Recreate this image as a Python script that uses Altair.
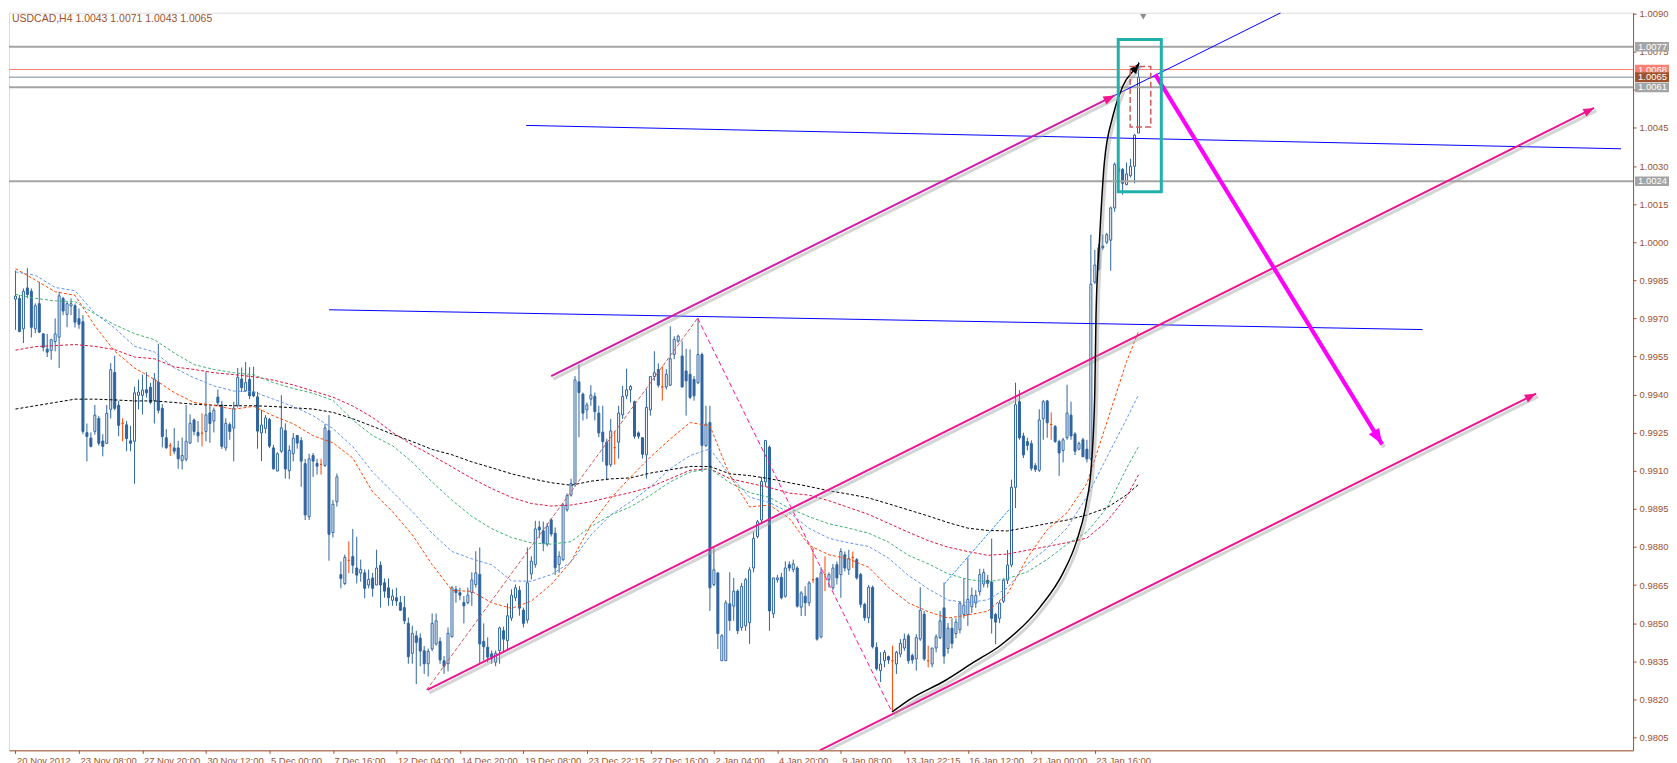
import altair as alt
import pandas as pd

# ---------------- data ----------------
SYMBOL = "USDCAD,H4"

OPEN = [
0.99776,0.99779,0.99659,0.99820,0.99807,0.99659,0.99758,0.99639,0.99579,0.99574,
0.99609,0.99626,0.99779,0.99716,0.99749,0.99750,0.99699,0.99687,0.99250,0.99229,
0.99255,0.99306,0.99217,0.99208,0.99342,0.99487,0.99358,0.99287,0.99281,0.99218,
0.99216,0.99397,0.99397,0.99419,0.99429,0.99377,0.99449,0.99346,0.99230,0.99199,
0.99190,0.99190,0.99140,0.99145,0.99209,0.99300,0.99251,0.99248,0.99255,0.99328,
0.99296,0.99390,0.99359,0.99190,0.99282,0.99268,0.99358,0.99461,0.99415,0.99460,
0.99411,0.99391,0.99249,0.99267,0.99302,0.99190,0.99099,0.99177,0.99258,0.99100,
0.99167,0.99239,0.99219,0.99128,0.98919,0.99160,0.99129,0.99125,0.99121,0.99258,
0.98857,0.98978,0.98691,0.98656,0.98747,0.98762,0.98717,0.98697,0.98698,0.98650,
0.98678,0.98650,0.98728,0.98659,0.98639,0.98590,0.98600,0.98581,0.98561,0.98499,
0.98381,0.98450,0.98441,0.98391,0.98340,0.98398,0.98418,0.98428,0.98352,0.98340,
0.98447,0.98633,0.98620,0.98581,0.98581,0.98620,0.98652,0.98692,0.98428,0.98405,
0.98379,0.98346,0.98392,0.98470,0.98431,0.98520,0.98600,0.98629,0.98551,0.98512,
0.98694,0.98731,0.98878,0.98864,0.98811,0.98907,0.98854,0.98731,0.98750,0.98946,
0.99004,0.99050,0.99450,0.99402,0.99340,0.99382,0.99393,0.99327,0.99252,0.99213,
0.99124,0.99191,0.99213,0.99320,0.99395,0.99419,0.99372,0.99249,0.99230,0.99163,
0.99340,0.99471,0.99499,0.99430,0.99430,0.99437,0.99558,0.99610,0.99552,0.99493,
0.99480,0.99460,0.99447,0.99558,0.99199,0.99290,0.98652,0.98698,0.98352,0.98352,
0.98576,0.98567,0.98626,0.98483,0.98489,0.98502,0.98717,0.98841,0.98906,0.99056,
0.99193,0.98537,0.98671,0.98680,0.98606,0.98730,0.98711,0.98717,0.98563,0.98606,
0.98580,0.98671,0.98678,0.98446,0.98691,0.98671,0.98639,0.98730,0.98691,0.98769,
0.98711,0.98759,0.98750,0.98691,0.98574,0.98521,0.98641,0.98404,0.98313,0.98352,
0.98368,0.98352,0.98339,0.98378,0.98402,0.98450,0.98372,0.98359,0.98437,0.98535,
0.98352,0.98339,0.98402,0.98443,0.98560,0.98400,0.98480,0.98459,0.98474,0.98534,
0.98534,0.98564,0.98579,0.98624,0.98654,0.98669,0.98661,0.98534,0.98519,0.98586,
0.98669,0.98729,0.99035,0.99372,0.99237,0.99215,0.99207,0.99120,0.99102,0.99305,
0.99375,0.99282,0.99274,0.99215,0.99180,0.99230,0.99319,0.99245,0.99185,0.99222,
0.99185,0.99147,0.99843,0.99895,0.99985,1.00000,1.00008,1.00135,1.00292,1.00287,
1.00227,1.00262,1.00299,1.00430]

HIGH = [
0.99889,0.99792,0.99818,0.99898,0.99818,0.99759,0.99844,0.99642,0.99639,0.99620,
0.99700,0.99805,0.99785,0.99765,0.99779,0.99758,0.99739,0.99713,0.99286,0.99251,
0.99359,0.99316,0.99244,0.99359,0.99524,0.99553,0.99375,0.99307,0.99296,0.99277,
0.99431,0.99459,0.99479,0.99488,0.99446,0.99485,0.99600,0.99362,0.99264,0.99210,
0.99268,0.99218,0.99231,0.99359,0.99322,0.99306,0.99296,0.99326,0.99490,0.99355,
0.99349,0.99420,0.99375,0.99307,0.99290,0.99372,0.99505,0.99507,0.99528,0.99508,
0.99510,0.99411,0.99340,0.99319,0.99308,0.99202,0.99173,0.99398,0.99287,0.99200,
0.99249,0.99241,0.99232,0.99147,0.99167,0.99170,0.99147,0.99147,0.99284,0.99319,
0.98985,0.99089,0.98743,0.98770,0.98822,0.98871,0.98840,0.98750,0.98711,0.98711,
0.98698,0.98789,0.98743,0.98676,0.98676,0.98633,0.98639,0.98607,0.98607,0.98522,
0.98490,0.98470,0.98460,0.98410,0.98400,0.98538,0.98538,0.98444,0.98370,0.98483,
0.98646,0.98646,0.98640,0.98607,0.98640,0.98700,0.98783,0.98798,0.98499,0.98444,
0.98392,0.98392,0.98486,0.98486,0.98577,0.98633,0.98652,0.98646,0.98561,0.98798,
0.98763,0.98903,0.98903,0.98900,0.98894,0.98913,0.98877,0.98783,0.98972,0.99011,
0.99069,0.99473,0.99519,0.99408,0.99369,0.99437,0.99408,0.99356,0.99356,0.99226,
0.99304,0.99257,0.99356,0.99434,0.99502,0.99437,0.99376,0.99255,0.99232,0.99421,
0.99473,0.99571,0.99523,0.99512,0.99500,0.99669,0.99630,0.99636,0.99610,0.99580,
0.99578,0.99473,0.99701,0.99565,0.99356,0.99356,0.98795,0.98698,0.98457,0.98590,
0.98700,0.98678,0.98633,0.98658,0.98678,0.98720,0.98860,0.98906,0.99076,0.99219,
0.99199,0.98678,0.98690,0.98698,0.98743,0.98743,0.98750,0.98724,0.98626,0.98645,
0.98666,0.98798,0.98678,0.98720,0.98763,0.98700,0.98733,0.98743,0.98795,0.98782,
0.98789,0.98782,0.98756,0.98698,0.98580,0.98650,0.98648,0.98424,0.98385,0.98394,
0.98372,0.98411,0.98391,0.98437,0.98459,0.98459,0.98380,0.98456,0.98641,0.98548,
0.98411,0.98402,0.98456,0.98548,0.98660,0.98500,0.98519,0.98519,0.98586,0.98676,
0.98759,0.98640,0.98630,0.98714,0.98714,0.98690,0.98833,0.98540,0.98590,0.98676,
0.98788,0.99065,0.99447,0.99417,0.99250,0.99230,0.99220,0.99130,0.99342,0.99379,
0.99379,0.99330,0.99280,0.99222,0.99230,0.99439,0.99372,0.99252,0.99215,0.99230,
0.99222,1.00030,0.99970,0.99993,1.00030,1.00037,1.00140,1.00314,1.00314,1.00292,
1.00314,1.00329,1.00427,1.00710]

LOW = [
0.99655,0.99646,0.99603,0.99779,0.99625,0.99642,0.99642,0.99570,0.99548,0.99537,
0.99570,0.99505,0.99713,0.99665,0.99713,0.99664,0.99659,0.99244,0.99137,0.99192,
0.99242,0.99199,0.99157,0.99205,0.99306,0.99338,0.99236,0.99216,0.99177,0.99177,
0.99049,0.99342,0.99322,0.99388,0.99362,0.99286,0.99326,0.99192,0.99186,0.99158,
0.99166,0.99108,0.99105,0.99137,0.99205,0.99240,0.99212,0.99196,0.99216,0.99210,
0.99251,0.99355,0.99186,0.99179,0.99222,0.99137,0.99349,0.99410,0.99411,0.99382,
0.99390,0.99187,0.99138,0.99248,0.99189,0.99104,0.99098,0.99170,0.99069,0.99067,
0.99137,0.99187,0.99037,0.98906,0.98906,0.99076,0.99085,0.99085,0.99115,0.98746,
0.98837,0.98959,0.98637,0.98650,0.98697,0.98695,0.98656,0.98663,0.98598,0.98637,
0.98604,0.98650,0.98561,0.98600,0.98568,0.98568,0.98568,0.98548,0.98496,0.98340,
0.98340,0.98260,0.98330,0.98300,0.98290,0.98390,0.98411,0.98340,0.98300,0.98310,
0.98443,0.98580,0.98590,0.98499,0.98574,0.98568,0.98640,0.98340,0.98353,0.98346,
0.98340,0.98330,0.98340,0.98385,0.98392,0.98509,0.98587,0.98529,0.98483,0.98499,
0.98672,0.98718,0.98835,0.98783,0.98802,0.98841,0.98689,0.98698,0.98744,0.98939,
0.98998,0.99037,0.99232,0.99298,0.99304,0.99356,0.99298,0.99232,0.99135,0.99063,
0.99115,0.99124,0.99148,0.99304,0.99382,0.99369,0.99226,0.99226,0.99148,0.99069,
0.99317,0.99454,0.99428,0.99376,0.99420,0.99434,0.99539,0.99604,0.99428,0.99317,
0.99382,0.99376,0.99441,0.99096,0.99193,0.98548,0.98645,0.98398,0.98352,0.98352,
0.98470,0.98509,0.98457,0.98470,0.98470,0.98418,0.98700,0.98834,0.98890,0.99037,
0.98470,0.98520,0.98660,0.98593,0.98600,0.98704,0.98700,0.98561,0.98528,0.98528,
0.98567,0.98658,0.98431,0.98440,0.98626,0.98640,0.98630,0.98652,0.98600,0.98704,
0.98690,0.98717,0.98671,0.98561,0.98509,0.98500,0.98400,0.98313,0.98268,0.98326,
0.98340,0.98155,0.98300,0.98365,0.98391,0.98340,0.98340,0.98313,0.98430,0.98352,
0.98326,0.98326,0.98385,0.98437,0.98340,0.98380,0.98400,0.98440,0.98459,0.98519,
0.98489,0.98540,0.98560,0.98609,0.98640,0.98640,0.98459,0.98417,0.98500,0.98579,
0.98654,0.98720,0.98953,0.99222,0.99150,0.99180,0.99100,0.99095,0.99095,0.99222,
0.99230,0.99222,0.99210,0.99080,0.99133,0.99222,0.99222,0.99162,0.99180,0.99155,
0.99133,0.99140,0.99835,0.99888,0.99970,0.99993,0.99888,1.00120,1.00262,1.00187,
1.00224,1.00255,1.00232,1.00430]

CLOSE = [
0.99788,0.99648,0.99807,0.99794,0.99665,0.99750,0.99646,0.99586,0.99567,0.99616,
0.99639,0.99789,0.99729,0.99758,0.99758,0.99685,0.99677,0.99255,0.99235,0.99196,
0.99319,0.99208,0.99196,0.99326,0.99498,0.99346,0.99279,0.99287,0.99227,0.99208,
0.99407,0.99410,0.99418,0.99407,0.99369,0.99461,0.99338,0.99235,0.99191,0.99199,
0.99177,0.99147,0.99160,0.99216,0.99287,0.99255,0.99238,0.99248,0.99320,0.99286,
0.99338,0.99368,0.99196,0.99287,0.99255,0.99346,0.99468,0.99427,0.99447,0.99395,
0.99395,0.99256,0.99280,0.99308,0.99197,0.99108,0.99167,0.99269,0.99107,0.99180,
0.99228,0.99209,0.99138,0.98926,0.99147,0.99138,0.99118,0.99125,0.99269,0.98850,
0.98968,0.99076,0.98676,0.98759,0.98747,0.98728,0.98689,0.98711,0.98637,0.98672,
0.98637,0.98717,0.98650,0.98626,0.98600,0.98607,0.98587,0.98551,0.98509,0.98368,
0.98460,0.98424,0.98390,0.98340,0.98389,0.98499,0.98509,0.98355,0.98330,0.98460,
0.98639,0.98620,0.98610,0.98568,0.98610,0.98670,0.98698,0.98418,0.98407,0.98366,
0.98359,0.98381,0.98481,0.98437,0.98529,0.98610,0.98639,0.98559,0.98499,0.98659,
0.98744,0.98871,0.98867,0.98815,0.98881,0.98851,0.98718,0.98763,0.98965,0.99002,
0.99050,0.99458,0.99408,0.99327,0.99359,0.99398,0.99333,0.99249,0.99215,0.99122,
0.99257,0.99191,0.99327,0.99393,0.99419,0.99432,0.99236,0.99236,0.99165,0.99350,
0.99471,0.99486,0.99437,0.99430,0.99480,0.99541,0.99617,0.99630,0.99430,0.99454,
0.99389,0.99395,0.99558,0.99200,0.99284,0.98639,0.98710,0.98459,0.98450,0.98580,
0.98510,0.98626,0.98470,0.98645,0.98671,0.98710,0.98834,0.98899,0.99058,0.99219,
0.98548,0.98678,0.98678,0.98600,0.98717,0.98717,0.98733,0.98567,0.98619,0.98580,
0.98658,0.98671,0.98437,0.98698,0.98691,0.98691,0.98717,0.98678,0.98782,0.98717,
0.98754,0.98759,0.98678,0.98574,0.98521,0.98641,0.98407,0.98320,0.98339,0.98385,
0.98355,0.98352,0.98385,0.98420,0.98437,0.98352,0.98355,0.98443,0.98550,0.98359,
0.98352,0.98402,0.98446,0.98509,0.98370,0.98480,0.98420,0.98504,0.98579,0.98571,
0.98594,0.98609,0.98609,0.98691,0.98699,0.98657,0.98519,0.98504,0.98579,0.98669,
0.98729,0.99035,0.99360,0.99230,0.99162,0.99200,0.99110,0.99105,0.99300,0.99372,
0.99289,0.99282,0.99215,0.99170,0.99222,0.99327,0.99237,0.99177,0.99207,0.99155,
0.99147,0.99835,0.99910,0.99978,0.99978,1.00030,1.00135,1.00307,1.00277,1.00232,
1.00269,1.00299,1.00422,1.00650]

X_LABELS = ["20 Nov 2012", "23 Nov 08:00", "27 Nov 20:00", "30 Nov 12:00", "5 Dec 00:00",
            "7 Dec 16:00", "12 Dec 04:00", "14 Dec 20:00", "19 Dec 08:00", "23 Dec 22:15",
            "27 Dec 16:00", "2 Jan 04:00", "4 Jan 20:00", "9 Jan 08:00", "13 Jan 22:15",
            "16 Jan 12:00", "21 Jan 00:00", "23 Jan 16:00"]
X_TICK_BARS = [0, 16, 32, 48, 64, 80, 96, 112, 128, 144, 160, 176, 192, 208, 224, 240, 256, 272]
Y_TICKS = [0.9805, 0.9820, 0.9835, 0.9850, 0.9865, 0.9880, 0.9895, 0.9910, 0.9925, 0.9940,
           0.9955, 0.9970, 0.9985, 1.0000, 1.0015, 1.0030, 1.0045, 1.0060, 1.0075, 1.0090]
Y_TICKS_HIDDEN = [1.0060]   # label fully covered by the price boxes in the original

# moving averages (sampled bars)
MA_IDX = [0, 5, 10, 15, 20, 25, 30, 35, 40, 45, 50, 55, 60, 65, 70, 75, 80, 85, 90, 95,
          100, 105, 110, 115, 120, 125, 130, 135, 140, 145, 150, 155, 160, 165, 170, 175, 180, 185, 190, 195,
          200, 205, 210, 215, 220, 225, 230, 235, 240, 245, 250, 255, 260, 265, 270, 275, 280, 283]
MA_ORANGE = [0.99896,0.99851,0.99805,0.99791,0.99671,0.99571,0.99505,0.99460,0.99408,0.99369,
             0.99357,0.99342,0.99354,0.99316,0.99285,0.99238,0.99210,0.99150,0.99017,0.98939,
             0.98848,0.98730,0.98629,0.98625,0.98580,0.98558,0.98587,0.98652,0.98743,0.98886,
             0.98991,0.99075,0.99154,0.99225,0.99290,0.99277,0.99082,0.98958,0.98965,0.98913,
             0.98806,0.98769,0.98753,0.98720,0.98641,0.98580,0.98545,0.98520,0.98532,0.98547,
             0.98616,0.98758,0.98868,0.98935,0.99050,0.99289,0.99530,0.99648]
MA_BLUE = [0.99883,0.99870,0.99822,0.99809,0.99720,0.99662,0.99590,0.99568,0.99505,0.99466,
           0.99434,0.99414,0.99411,0.99382,0.99353,0.99317,0.99266,0.99195,0.99095,0.99017,
           0.98939,0.98854,0.98782,0.98753,0.98730,0.98666,0.98665,0.98691,0.98741,0.98847,
           0.98926,0.98978,0.99036,0.99108,0.99160,0.99186,0.99082,0.98996,0.98975,0.98936,
           0.98873,0.98834,0.98816,0.98802,0.98756,0.98688,0.98635,0.98591,0.98580,0.98592,
           0.98639,0.98733,0.98796,0.98875,0.98998,0.99152,0.99304,0.99399]
MA_GREEN = [0.99795,0.99779,0.99769,0.99766,0.99718,0.99675,0.99640,0.99616,0.99564,0.99518,
            0.99499,0.99486,0.99478,0.99447,0.99424,0.99405,0.99377,0.99300,0.99238,0.99199,
            0.99134,0.99056,0.98984,0.98920,0.98872,0.98837,0.98816,0.98811,0.98821,0.98880,
            0.98926,0.98958,0.99004,0.99056,0.99095,0.99108,0.99053,0.99014,0.98995,0.98952,
            0.98919,0.98891,0.98874,0.98854,0.98819,0.98767,0.98734,0.98694,0.98672,0.98663,
            0.98675,0.98702,0.98751,0.98811,0.98859,0.98953,0.99110,0.99195]
MA_RED = [0.99575,0.99589,0.99593,0.99597,0.99590,0.99577,0.99548,0.99541,0.99509,0.99499,
          0.99486,0.99479,0.99470,0.99457,0.99438,0.99414,0.99390,0.99355,0.99310,0.99251,
          0.99202,0.99160,0.99115,0.99070,0.99030,0.98995,0.98971,0.98961,0.98965,0.98978,
          0.98997,0.99014,0.99036,0.99069,0.99102,0.99108,0.99069,0.99051,0.99034,0.99012,
          0.99004,0.98982,0.98955,0.98928,0.98893,0.98858,0.98825,0.98799,0.98782,0.98767,
          0.98772,0.98787,0.98802,0.98817,0.98835,0.98900,0.98998,0.99084]
MA_BLACK = [0.99343,0.99356,0.99369,0.99382,0.99382,0.99379,0.99375,0.99375,0.99369,0.99362,
            0.99358,0.99356,0.99356,0.99353,0.99348,0.99343,0.99330,0.99305,0.99275,0.99244,
            0.99215,0.99184,0.99163,0.99135,0.99112,0.99088,0.99069,0.99053,0.99043,0.99059,
            0.99068,0.99072,0.99091,0.99104,0.99117,0.99117,0.99088,0.99081,0.99069,0.99053,
            0.99038,0.99021,0.99008,0.98993,0.98970,0.98946,0.98922,0.98896,0.98874,0.98865,
            0.98863,0.98877,0.98892,0.98906,0.98926,0.98954,0.99005,0.99046]

# horizontal price levels
LEVEL_PRICES = [1.0077, 1.0068, 1.0061, 1.0024]
LEVEL_COLORS = ["#A4A4A4", "#FA8072", "#A4A4A4", "#A4A4A4"]
LEVEL_WIDTHS = [2, 1, 2, 2]

# trend objects (bar index, price)
CH_UPPER = ([135.0, 277.0], [0.99473, 1.00578])
CH_UPPER_EXT = ([277.0, 318.9], [1.00578, 1.00904])
CH_MID = ([103.8, 397.8], [0.98237, 1.00529])
CH_LOW = ([202.7, 383.2], [0.97999, 0.99404])
BLUE_UP = ([128.7, 404.6], [1.00460, 1.00368])
BLUE_LO = ([79.0, 354.6], [0.99734, 0.99656])
BLUE_SMALL = ([234.0, 250.7], [0.98653, 0.98952])
ZIG_UP = ([103.6, 171.9], [0.98237, 0.99701])
ZIG_DOWN = ([171.9, 220.9], [0.99701, 0.98150])
BIG_ARROW = ([287.2, 344.4], [1.00661, 0.99204])
CURVE_I = [220.9, 225.4, 234.4, 241.5, 248.2, 258.2, 264.0, 267.3, 269.8, 271.1,
           272.0, 272.3, 273.2, 274.4, 276.5, 279.0, 282.4, 283.2]
CURVE_P = [0.98150, 0.98200, 0.98275, 0.98346, 0.98412, 0.98563, 0.98698, 0.98818, 0.98968, 0.99117,
           0.99417, 0.99715, 1.00015, 1.00314, 1.00494, 1.00613, 1.00688, 1.00705]
TEAL_BOX = (277.9, 288.75, 1.00798, 1.00199)
RED_BOX = (280.9, 286.1, 1.00692, 1.00454)
SHIFT_BAR = 284.2

# ---------------- styling ----------------
W, H = 1627, 739
XDOM = [-0.375, 406.375]
YDOM = [0.97999, 1.00904]
FONT = "Liberation Sans"
BROWN = "#A0522D"
CANDLE = "#2F64A0"
DOJI = "#FF4500"
PINK = "#F0158F"
PINK_UP = "#D21CA8"

xs = alt.Scale(domain=XDOM, nice=False, zero=False)
ys = alt.Scale(domain=YDOM, nice=False, zero=False)

labels_js = "[" + ",".join("'%s'" % s for s in X_LABELS) + "]"
ticks_js = "[" + ",".join(str(v) for v in X_TICK_BARS) + "]"
hidden_js = "[" + ",".join(str(v) for v in Y_TICKS_HIDDEN) + "]"
x_axis = alt.Axis(values=X_TICK_BARS, labelExpr=f"{labels_js}[indexof({ticks_js}, datum.value)]",
                  title=None, grid=False, tickSize=3, labelPadding=2, labelAlign="left",
                  labelBaseline="top", labelOffset=1, labelFlush=False, labelOverlap=False,
                  domainColor=BROWN, tickColor=BROWN, labelColor=BROWN, labelFont=FONT,
                  labelFontSize=9.5)
y_axis = alt.Axis(orient="right", values=Y_TICKS,
                  labelExpr=f"indexof({hidden_js}, datum.value) >= 0 ? '' : format(datum.value, '.4f')",
                  title=None, grid=False,
                  tickSize=3, labelPadding=3, labelAlign="left", labelBaseline="middle",
                  labelFlush=False, labelOverlap=False, domainColor=BROWN, tickColor=BROWN,
                  labelColor=BROWN, labelFont=FONT, labelFontSize=9.5)


def X(f):
    return alt.X(f, type="quantitative", scale=xs, axis=x_axis)


def Y(f):
    return alt.Y(f, type="quantitative", scale=ys, axis=y_axis)


# ---------------- tables ----------------
kind = ["bull" if c > o else ("bear" if c < o else "doji") for o, c in zip(OPEN, CLOSE)]
candles = pd.DataFrame({
    "i": list(range(len(CLOSE))), "open": OPEN, "high": HIGH, "low": LOW, "close": CLOSE,
    "line": [DOJI if k == "doji" else CANDLE for k in kind],
    "body": ["#FFFFFF" if k == "bull" else (CANDLE if k == "bear" else DOJI) for k in kind],
})

ma_rows = []
for vals, col in [(MA_BLACK, "#000000"), (MA_RED, "#DC143C"), (MA_GREEN, "#3CB371"),
                  (MA_BLUE, "#6495ED"), (MA_ORANGE, "#FF4500")]:
    for i, p in zip(MA_IDX, vals):
        ma_rows.append({"i": i, "p": p, "col": col})
ma_df = pd.DataFrame(ma_rows)

levels = pd.DataFrame({"p": LEVEL_PRICES + [CLOSE[-1]],
                       "col": LEVEL_COLORS + ["#778899"],
                       "w": LEVEL_WIDTHS + [1]})


def seg(pts):
    I, P = pts
    return pd.DataFrame({"i": I, "p": P, "k": list(range(len(I)))})


def line(pts, color, width, dash=None, interp="linear", opacity=1.0):
    kw = dict(color=color, strokeWidth=width, clip=True, interpolate=interp, opacity=opacity)
    if dash:
        kw["strokeDash"] = dash
    return alt.Chart(seg(pts)).mark_line(**kw).encode(x=X("i"), y=Y("p"), order="k:Q")


def shadow(pts, width=3, interp="linear"):
    return alt.Chart(seg(pts)).mark_line(color="#A0A0A0", strokeWidth=width, opacity=0.45,
                                         xOffset=2, yOffset=3, clip=True,
                                         interpolate=interp).encode(x=X("i"), y=Y("p"), order="k:Q")


# ---------------- layers ----------------
wick = alt.Chart(candles).mark_rule(strokeWidth=1).encode(
    x=X("i"), y=Y("low"), y2="high:Q",
    color=alt.Color("line:N", scale=None),
)
body = alt.Chart(candles).mark_bar(size=2, strokeWidth=1).encode(
    x=X("i"), y=Y("open"), y2="close:Q",
    fill=alt.Fill("body:N", scale=None),
    stroke=alt.Stroke("line:N", scale=None),
)
mas = alt.Chart(ma_df).mark_line(strokeWidth=1, strokeDash=[3, 2], clip=True).encode(
    x=X("i"), y=Y("p"), color=alt.Color("col:N", scale=None), detail="col:N")

level_rules = alt.Chart(levels).mark_rule().encode(
    y=Y("p"), color=alt.Color("col:N", scale=None),
    strokeWidth=alt.StrokeWidth("w:Q", scale=None))

curve_pts = (CURVE_I, CURVE_P)

heads = pd.DataFrame({
    "i": [CH_UPPER[0][1], CH_MID[0][1], CH_LOW[0][1], BIG_ARROW[0][1], CURVE_I[-1]],
    "p": [CH_UPPER[1][1], CH_MID[1][1], CH_LOW[1][1], BIG_ARROW[1][1], CURVE_P[-1]],
    "ang": [63.6, 63.6, 63.6, 148.3, 38.0],
    "col": [PINK, PINK, PINK, "#FF00FF", "#000000"],
    "sz": [200, 180, 200, 380, 170],
})
ARROW_SHAPE = "M0,0L0.62,1.6L-0.62,1.6Z"
arrow_heads = alt.Chart(heads).mark_point(shape=ARROW_SHAPE, filled=True, opacity=1, strokeWidth=0).encode(
    x=X("i"), y=Y("p"),
    angle=alt.Angle("ang:Q", scale=None),
    color=alt.Color("col:N", scale=None),
    size=alt.Size("sz:Q", scale=None))

teal = alt.Chart(pd.DataFrame({"i1": [TEAL_BOX[0]], "i2": [TEAL_BOX[1]],
                               "p1": [TEAL_BOX[2]], "p2": [TEAL_BOX[3]]})).mark_rect(
    fillOpacity=0, stroke="#20B2AA", strokeWidth=3).encode(
    x=X("i1"), x2="i2:Q", y=Y("p1"), y2="p2:Q")
redbox = alt.Chart(pd.DataFrame({"i1": [RED_BOX[0]], "i2": [RED_BOX[1]],
                                 "p1": [RED_BOX[2]], "p2": [RED_BOX[3]]})).mark_rect(
    fillOpacity=0, stroke="#CD5C5C", strokeWidth=1.5, strokeDash=[6, 3]).encode(
    x=X("i1"), x2="i2:Q", y=Y("p1"), y2="p2:Q")

title_txt = "%s  %.4f %.4f %.4f %.4f" % (SYMBOL, OPEN[-1], HIGH[-1], LOW[-1], CLOSE[-1])
title = alt.Chart(pd.DataFrame({"t": [title_txt]})).mark_text(
    align="left", baseline="middle", font=FONT, fontSize=10.5, color=BROWN).encode(
    x=alt.value(3), y=alt.value(6), text="t:N")

shift_mark = alt.Chart(pd.DataFrame({"i": [SHIFT_BAR]})).mark_point(
    shape="triangle-down", filled=True, size=40, color="#8C8C8C", opacity=1).encode(
    x=X("i"), y=alt.value(4))

box_df = pd.DataFrame({"p": LEVEL_PRICES, "col": LEVEL_COLORS,
                       "txt": ["%.4f" % p for p in LEVEL_PRICES]})
cur_df = pd.DataFrame({"p": [CLOSE[-1]], "col": [BROWN], "txt": ["%.4f" % CLOSE[-1]]})


def price_box(df):
    r = alt.Chart(df).transform_calculate(top="datum.p + 0.00019", bot="datum.p - 0.00019").mark_rect().encode(
        x=alt.value(W + 2), x2=alt.value(W + 36), y=Y("top"), y2="bot:Q",
        fill=alt.Fill("col:N", scale=None))
    t = alt.Chart(df).mark_text(align="left", baseline="middle", font=FONT, fontSize=9.5,
                                color="#FFFFFF").encode(x=alt.value(W + 5), y=Y("p"), text="txt:N")
    return [r, t]


layers = [
    wick, body, mas, level_rules,
    line(BLUE_UP, "#0000FF", 1), line(BLUE_LO, "#0000FF", 1),
    line(BLUE_SMALL, "#3399FF", 1, dash=[3, 1]),
    line(ZIG_UP, "#CD5C5C", 1, dash=[4, 2]),
    line(ZIG_DOWN, "#FF1493", 1, dash=[5, 3]),
    shadow(CH_UPPER), shadow(CH_MID), shadow(CH_LOW),
    line(CH_UPPER, PINK_UP, 2), line(CH_MID, PINK, 2), line(CH_LOW, PINK, 2),
    line(CH_UPPER_EXT, "#0000FF", 1),
    shadow(BIG_ARROW, width=4), line(BIG_ARROW, "#FF00FF", 4),
    shadow(curve_pts, width=3, interp="monotone"),
    line(curve_pts, "#000000", 1.5, interp="monotone"),
    arrow_heads, teal, redbox, title, shift_mark,
] + price_box(box_df) + price_box(cur_df)

chart = alt.layer(*layers).properties(
    width=W, height=H, padding=0
).configure_view(stroke=BROWN, strokeWidth=1).configure(background="#FFFFFF")

chart.save("out.html", embed_options={"renderer": "svg", "actions": False})
